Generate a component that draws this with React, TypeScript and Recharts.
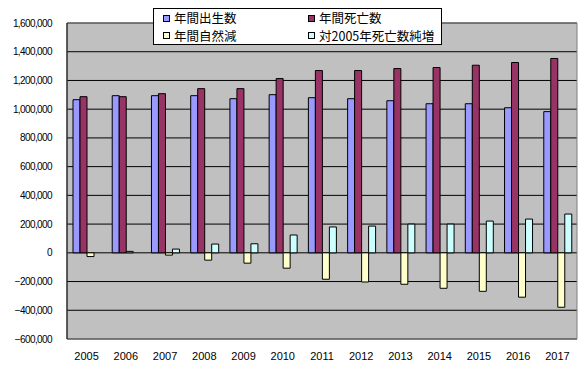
import React from 'react';
import { BarChart, Bar, XAxis, YAxis, CartesianGrid, Legend, ReferenceArea } from 'recharts';

const years = ['2005', '2006', '2007', '2008', '2009', '2010', '2011', '2012', '2013', '2014', '2015', '2016', '2017'];
const births = [1066000, 1094000, 1094000, 1094000, 1073000, 1101000, 1080000, 1073000, 1059000, 1038000, 1038000, 1010000, 983000];
const deaths = [1087000, 1087000, 1108000, 1143000, 1143000, 1213000, 1269000, 1269000, 1283000, 1290000, 1306000, 1325000, 1353000];
const naturalChange = [-26000, 10000, -16000, -51000, -72000, -107000, -184000, -203000, -219000, -247000, -268000, -309000, -379000];
const deathIncrease = [0, 0, 26000, 61000, 63000, 124000, 180000, 186000, 200000, 200000, 221000, 235000, 270000];
const yTicks = [-600000, -400000, -200000, 0, 200000, 400000, 600000, 800000, 1000000, 1200000, 1400000, 1600000];

const seriesNames = ['年間出生数', '年間死亡数', '年間自然減', '対2005年死亡数純増'];
const seriesColors = ['#9999FF', '#993366', '#FFFFCC', '#CCFFFF'];

const data = years.map((y, i) => ({
  year: y,
  births: births[i],
  deaths: deaths[i],
  natural: naturalChange[i],
  increase: deathIncrease[i],
}));

const fmt = (v: number) => v.toLocaleString('en-US').replace('-', '\u2212');

const LegendBox = () => {
  const order = [0, 1, 2, 3];
  return (
    <div
      style={{
        width: 287,
        height: 35,
        border: '1px solid #000',
        background: '#fff',
        display: 'grid',
        gridTemplateColumns: '145px 140px',
        gridTemplateRows: '18px 17px',
        fontFamily: '"Noto Sans CJK JP", sans-serif',
        fontSize: 12.5,
        color: '#000',
        boxSizing: 'content-box',
      }}
    >
      {order.map((i) => (
        <div key={i} style={{ display: 'flex', alignItems: 'center', paddingLeft: 9, lineHeight: '14px' }}>
          <span
            style={{
              display: 'inline-block',
              width: 5,
              height: 5,
              border: '1px solid #000',
              background: seriesColors[i],
              marginRight: 4,
            }}
          />
          <span>{seriesNames[i]}</span>
        </div>
      ))}
    </div>
  );
};

export default function App() {
  return (
    <div style={{ position: 'absolute', left: 0, top: 0, width: 582, height: 375, background: '#fff' }}>
      <BarChart
        width={582}
        height={375}
        data={data}
        margin={{ top: 23, right: 5, bottom: 0, left: 0 }}
        barGap={0}
        barCategoryGap={5}
      >
        <CartesianGrid yAxisId="main" horizontal vertical={false} stroke="#000" fill="#C0C0C0" fillOpacity={1} />
        <ReferenceArea yAxisId="main" y1={-600000} y2={1600000} stroke="#808080" strokeWidth={1} fill="none" fillOpacity={0} />
        <XAxis
          dataKey="year"
          axisLine={false}
          tickLine={false}
          tickMargin={7}
          height={36}
          interval={0}
          tick={{ fill: '#000', fontSize: 11, fontFamily: '"Liberation Sans", Arial, sans-serif' }}
        />
        <YAxis
          yAxisId="main"
          domain={[-600000, 1600000]}
          ticks={yTicks}
          interval={0}
          width={67}
          axisLine={{ stroke: '#000' }}
          tickLine={false}
          tickMargin={9}
          tickFormatter={fmt}
          tick={{ fill: '#000', fontSize: 10, letterSpacing: -0.6, fontFamily: '"Liberation Sans", Arial, sans-serif' }}
        />
        <YAxis
          yAxisId="ticks"
          domain={[-600000, 1600000]}
          ticks={yTicks}
          interval={0}
          width={0}
          mirror
          axisLine={false}
          tickLine={{ stroke: '#000' }}
          tickSize={3}
          tick={false}
        />
        <Legend
          layout="horizontal"
          verticalAlign="middle"
          align="center"
          wrapperStyle={{ top: 8, left: 153, width: 289, height: 37 }}
          content={() => <LegendBox />}
        />
        <Bar yAxisId="main" dataKey="births" name={seriesNames[0]} fill={seriesColors[0]} stroke="#000" strokeWidth={1} barSize={7} isAnimationActive={false} />
        <Bar yAxisId="main" dataKey="deaths" name={seriesNames[1]} fill={seriesColors[1]} stroke="#000" strokeWidth={1} barSize={7} isAnimationActive={false} />
        <Bar yAxisId="main" dataKey="natural" name={seriesNames[2]} fill={seriesColors[2]} stroke="#000" strokeWidth={1} barSize={7} isAnimationActive={false} />
        <Bar yAxisId="main" dataKey="increase" name={seriesNames[3]} fill={seriesColors[3]} stroke="#000" strokeWidth={1} barSize={7} isAnimationActive={false} />
      </BarChart>
    </div>
  );
}
